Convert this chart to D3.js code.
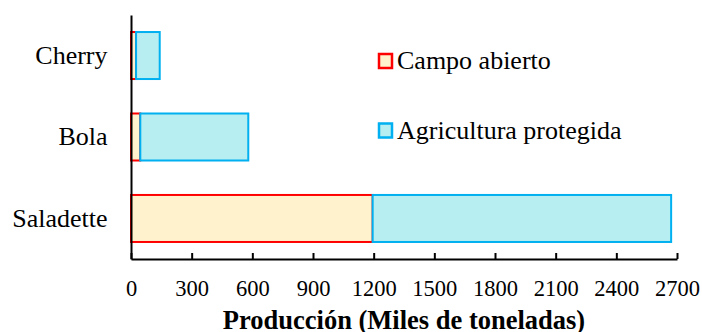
<!DOCTYPE html>
<html>
<head>
<meta charset="utf-8">
<script src="https://cdn.jsdelivr.net/npm/d3@7"></script>
<style>
  body { margin: 0; background: #fff; }
  #chart { width: 702px; height: 332px; }
</style>
</head>
<body>
<div id="chart"></div>
<script>
// data (miles de toneladas)
const categories = ["Cherry", "Bola", "Saladette"];
const campoAbierto = [25, 46, 1195];
const agriculturaProtegida = [117, 534, 1476];
const xTicks = [0, 300, 600, 900, 1200, 1500, 1800, 2100, 2400, 2700];
const seriesNames = ["Campo abierto", "Agricultura protegida"];

const width = 702, height = 332;
const margin = { top: 15, left: 131, right: 25, bottom: 73 };
const serif = "Liberation Serif";

const svg = d3.select("#chart")
    .append("svg")
    .attr("width", width)
    .attr("height", height)
    .attr("font-family", serif);

const xScale = d3.scaleLinear()
    .domain([0, 2700])
    .range([margin.left, width - margin.right]);

const yScale = d3.scaleBand()
    .domain(categories)
    .range([margin.top, height - margin.bottom])
    .paddingInner(0.423)
    .paddingOuter(0.209);

// build the stack table from the arrays
const table = categories.map((c, i) => ({
    cat: c,
    campo: campoAbierto[i],
    protegida: agriculturaProtegida[i]
}));
const stacked = d3.stack().keys(["campo", "protegida"])(table);

const fills = { campo: "#fff2cc", protegida: "#b7eef1" };
const strokes = { campo: "#ff0000", protegida: "#00b0f0" };

svg.selectAll(".layer")
    .data(stacked)
    .enter()
    .append("g")
    .attr("class", "layer")
    .attr("fill", d => fills[d.key])
    .attr("stroke", d => strokes[d.key])
    .attr("stroke-width", 2)
    .selectAll("rect")
    .data(d => d)
    .enter()
    .append("rect")
    .attr("x", d => xScale(d[0]))
    .attr("y", d => yScale(d.data.cat))
    .attr("width", d => xScale(d[1]) - xScale(d[0]))
    .attr("height", yScale.bandwidth());

// x axis, ticks pointing inward
const xAxis = svg.append("g")
    .attr("transform", `translate(0,${height - margin.bottom})`)
    .call(d3.axisBottom(xScale).tickValues(xTicks).tickFormat(d3.format("d"))
        .tickSize(-6).tickSizeOuter(0).tickPadding(21.5));
xAxis.attr("font-family", serif).attr("font-size", 22.5);
xAxis.select(".domain").attr("stroke", "#000").attr("stroke-width", 2);
xAxis.selectAll(".tick line").attr("stroke", "#000").attr("stroke-width", 2);
xAxis.selectAll(".tick text").attr("fill", "#000");

// y axis: plain line plus category labels
const yAxis = svg.append("g")
    .attr("transform", `translate(${margin.left},0)`)
    .call(d3.axisLeft(yScale).tickSize(0).tickSizeOuter(0).tickPadding(23.5));
yAxis.attr("font-family", serif).attr("font-size", 26);
yAxis.select(".domain").attr("stroke", "#000").attr("stroke-width", 2);
yAxis.selectAll(".tick text").attr("fill", "#000");

// axis title
svg.append("text")
    .attr("x", (xScale(0) + xScale(2700)) / 2)
    .attr("y", 329)
    .attr("text-anchor", "middle")
    .attr("font-family", serif)
    .attr("font-size", 26.5)
    .attr("font-weight", "bold")
    .text("Producción (Miles de toneladas)");

// legend
const legend = svg.selectAll(".legend")
    .data(["campo", "protegida"])
    .enter()
    .append("g")
    .attr("class", "legend")
    .attr("transform", (d, i) => `translate(379,${54 + i * 69.5})`);

legend.append("rect")
    .attr("width", 13)
    .attr("height", 14)
    .attr("fill", d => fills[d])
    .attr("stroke", d => strokes[d])
    .attr("stroke-width", 2.5);

legend.append("text")
    .attr("x", 18)
    .attr("y", 15)
    .attr("font-family", serif)
    .attr("font-size", 26)
    .text((d, i) => seriesNames[i]);
</script>
</body>
</html>
